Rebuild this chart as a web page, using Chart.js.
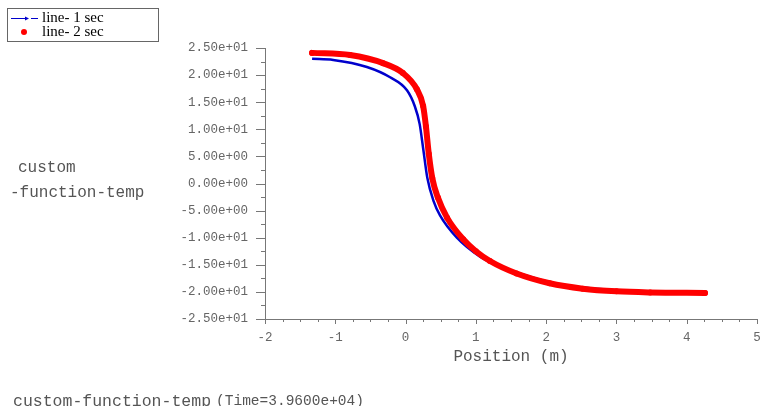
<!DOCTYPE html>
<html>
<head>
<meta charset="utf-8">
<title>custom-function-temp</title>
<script src="https://cdn.jsdelivr.net/npm/chart.js@4.4.1/dist/chart.umd.min.js"></script>
<style>
  html, body { margin: 0; padding: 0; background: #fff; }
  canvas { display: block; }
</style>
</head>
<body>
<canvas id="plot" width="761" height="406"></canvas>
<script>
// values (position in m vs custom-function-temp)
const seriesNames = ['line- 1 sec', 'line- 2 sec'];

const position1 = [-1.33, -1.03, -0.55, -0.22, 0.02, 0.13, 0.20, 0.25, 0.31, 0.40, 0.49, 0.73, 1.06, 1.34, 1.58, 2.05, 2.52, 3.00, 3.48, 4.26];
const temp1 = [23.0, 22.8, 21.5, 19.6, 17.2, 14.3, 11.0, 6.5, 1.0, -3.3, -5.9, -10.0, -13.5, -15.3, -16.4, -18.2, -19.2, -19.7, -20.0, -20.1];

const position2 = [-1.33, -0.79, -0.32, -0.04, 0.16, 0.25, 0.29, 0.33, 0.38, 0.46, 0.59, 0.82, 1.00, 1.20, 1.58, 2.05, 2.52, 3.00, 3.48, 4.26];
const temp2 = [24.1, 23.7, 22.2, 20.4, 17.4, 14.3, 10.5, 5.5, 1.0, -2.6, -6.3, -10.3, -12.5, -14.3, -16.6, -18.4, -19.4, -19.9, -20.1, -20.2];

const xTicks = [-2, -1, 0, 1, 2, 3, 4, 5];
const xTickLabels = ['-2', '-1', '0', '1', '2', '3', '4', '5'];
const yTicks = [25, 20, 15, 10, 5, 0, -5, -10, -15, -20, -25];
const yTickLabels = ['2.50e+01', '2.00e+01', '1.50e+01', '1.00e+01', '5.00e+00', '0.00e+00',
  '-5.00e+00', '-1.00e+01', '-1.50e+01', '-2.00e+01', '-2.50e+01'];

const blue = '#0000cc';
const red = '#ff0000';
const axisColor = '#777';
const labelColor = '#666';
const mono = '"Liberation Mono", "DejaVu Sans Mono", monospace';

const toPoints = (xs, ys) => xs.map((v, i) => ({ x: v, y: ys[i] }));

// ticks (major + minor), side titles and the boxed legend
const decorations = {
  id: 'decorations',
  afterDraw(chart) {
    const { ctx, chartArea: a, scales: { x, y } } = chart;
    ctx.save();
    ctx.strokeStyle = axisColor;
    ctx.lineWidth = 1;
    ctx.beginPath();
    for (let v = -25; v <= 25; v += 2.5) {
      const py = Math.round(y.getPixelForValue(v)) + 0.5;
      const len = v % 5 === 0 ? 9 : 4;
      ctx.moveTo(a.left - len, py);
      ctx.lineTo(a.left, py);
    }
    for (let v = -2; v <= 5.0001; v += 0.25) {
      const px = Math.round(x.getPixelForValue(v)) + 0.5;
      const len = Math.abs(v - Math.round(v)) < 1e-6 ? 5 : 3;
      ctx.moveTo(px, a.bottom);
      ctx.lineTo(px, a.bottom + len);
    }
    ctx.stroke();

    // y title
    ctx.fillStyle = '#555';
    ctx.textBaseline = 'middle';
    ctx.textAlign = 'left';
    ctx.font = '16px ' + mono;
    ctx.fillText('custom', 18, 168);
    ctx.fillText('-function-temp', 10, 193);

    // bottom title
    ctx.textBaseline = 'alphabetic';
    ctx.font = '16.5px ' + mono;
    const main = 'custom-function-temp';
    ctx.fillText(main, 13, 406);
    const w = ctx.measureText(main).width;
    ctx.font = '14.5px ' + mono;
    ctx.fillText('(Time=3.9600e+04)', 13 + w + 5, 405);

    // legend
    ctx.strokeStyle = '#666';
    ctx.strokeRect(7.5, 8.5, 151, 33);
    ctx.strokeStyle = blue;
    ctx.lineWidth = 1;
    ctx.beginPath();
    ctx.moveTo(11, 18.5); ctx.lineTo(28, 18.5);
    ctx.moveTo(31, 18.5); ctx.lineTo(38, 18.5);
    ctx.stroke();
    ctx.fillStyle = blue;
    ctx.beginPath();
    ctx.moveTo(29, 18.5); ctx.lineTo(25, 16.5); ctx.lineTo(25, 20.5);
    ctx.closePath();
    ctx.fill();
    ctx.fillStyle = red;
    ctx.beginPath();
    ctx.arc(24, 32, 3, 0, Math.PI * 2);
    ctx.fill();
    ctx.fillStyle = '#000';
    ctx.textBaseline = 'middle';
    ctx.font = '15px "Liberation Serif", "Times New Roman", serif';
    ctx.fillText(chart.data.datasets[0].label, 42, 18);
    ctx.fillText(chart.data.datasets[1].label, 42, 32);
    ctx.restore();
  }
};

new Chart(document.getElementById('plot'), {
  type: 'scatter',
  data: {
    datasets: [
      {
        label: seriesNames[0],
        data: toPoints(position1, temp1),
        showLine: true,
        borderColor: blue,
        backgroundColor: blue,
        borderWidth: 2.5,
        pointRadius: 0,
        cubicInterpolationMode: 'monotone',
        order: 2
      },
      {
        label: seriesNames[1],
        data: toPoints(position2, temp2),
        showLine: true,
        borderColor: red,
        backgroundColor: red,
        borderWidth: 6,
        borderCapStyle: 'round',
        borderJoinStyle: 'round',
        pointRadius: 3,
        pointBorderWidth: 0,
        cubicInterpolationMode: 'monotone',
        order: 1
      }
    ]
  },
  options: {
    responsive: false,
    animation: false,
    layout: { padding: { left: 0, top: 48, right: 4, bottom: 40 } },
    plugins: { legend: { display: false }, tooltip: { enabled: false } },
    scales: {
      x: {
        type: 'linear',
        min: -2,
        max: 5,
        grid: { display: false, drawTicks: false },
        border: { display: true, color: axisColor },
        ticks: {
          stepSize: 1,
          padding: 11,
          maxRotation: 0,
          color: labelColor,
          font: { family: mono, size: 12.5 },
          callback: v => { const i = xTicks.indexOf(v); return i < 0 ? '' : xTickLabels[i]; }
        },
        title: {
          display: true,
          text: 'Position (m)',
          color: '#555',
          padding: { top: 0, bottom: 0 },
          font: { family: mono, size: 16 }
        },
        afterFit: s => { s.height = 47; s.paddingLeft = 0; s.paddingRight = 0; }
      },
      y: {
        min: -25,
        max: 25,
        grid: { display: false, drawTicks: false },
        border: { display: true, color: axisColor },
        ticks: {
          stepSize: 5,
          padding: 17,
          color: labelColor,
          font: { family: mono, size: 12.5 },
          callback: v => { const i = yTicks.indexOf(v); return i < 0 ? '' : yTickLabels[i]; }
        },
        afterFit: s => { s.width = 265; s.paddingTop = 0; s.paddingBottom = 0; }
      }
    }
  },
  plugins: [decorations]
});
</script>
</body>
</html>
